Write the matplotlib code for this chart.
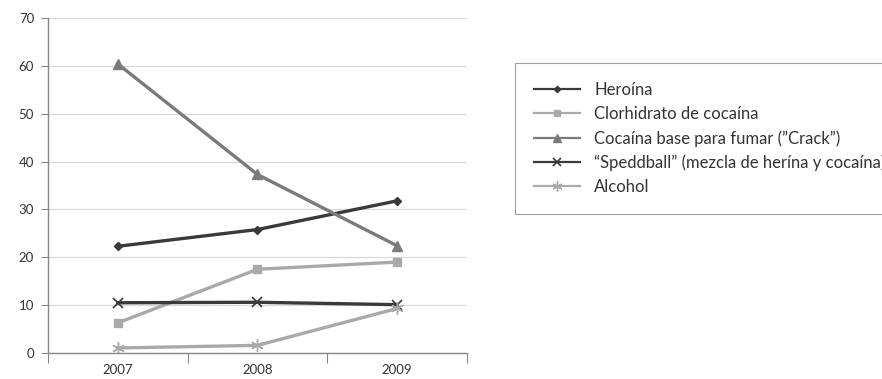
import matplotlib.pyplot as plt

plt.rcParams['font.family'] = ['Lato', 'DejaVu Sans']

years = ['2007', '2008', '2009']
heroina = [22.3, 25.8, 31.8]
clorhidrato = [6.3, 17.5, 19.0]
crack = [60.4, 37.3, 22.4]
speedball = [10.5, 10.6, 10.1]
alcohol = [1.05, 1.6, 9.3]

labels = ['Heroína',
          'Clorhidrato de cocaína',
          'Cocaína base para fumar (\u201dCrack\u201d)',
          '\u201cSpeddball\u201d (mezcla de herína y cocaína)',
          'Alcohol']

fig = plt.figure(figsize=(8.82, 3.79), dpi=100)
ax = fig.add_axes([0.0544, 0.0686, 0.4751, 0.8839])

x = range(len(years))
ax.plot(x, heroina, color='#3a3a3a', lw=2.4, marker='D', ms=4, label=labels[0])
ax.plot(x, clorhidrato, color='#a9a9a9', lw=2.4, marker='s', ms=6, label=labels[1])
ax.plot(x, crack, color='#7a7a7a', lw=2.4, marker='^', ms=7, label=labels[2])
ax.plot(x, speedball, color='#3a3a3a', lw=2.4, marker='x', ms=7, mew=1.2, label=labels[3])
ax.plot(x, alcohol, color='#a9a9a9', lw=2.4, marker=(6, 2, 0), ms=9, mew=1.0, label=labels[4])

ax.set_ylim(0, 70)
ax.set_xlim(-0.5, 2.5)
ax.set_yticks(range(0, 71, 10))
ax.set_xticks([-0.5, 0.5, 1.5, 2.5])
ax.set_xticklabels([])
ax.set_xticks(list(x), minor=True)
ax.set_xticklabels(years, minor=True)
ax.tick_params(axis='x', which='major', length=7, color='#888888', direction='out')
ax.tick_params(axis='x', which='minor', length=0, pad=8, labelsize=9.5, labelcolor='#333333')
ax.tick_params(axis='y', length=5, color='#888888', labelsize=9.5, labelcolor='#333333', pad=5)

ax.grid(axis='y', color='#d9d9d9', lw=0.9)
ax.set_axisbelow(True)
for s in ['top', 'right']:
    ax.spines[s].set_visible(False)
for s in ['left', 'bottom']:
    ax.spines[s].set_color('#888888')
    ax.spines[s].set_linewidth(1.0)

leg = fig.legend(loc='upper left', bbox_to_anchor=(0.584, 0.834), frameon=True,
                 fancybox=False, edgecolor='#888888', fontsize=12, handlelength=2.75,
                 labelspacing=0.48, borderpad=1.15, handletextpad=0.85, borderaxespad=0)
leg.get_frame().set_linewidth(0.8)
for line in leg.get_lines():
    line.set_linewidth(1.6)
    line.set_markersize(line.get_markersize() * 0.8)
for t in leg.get_texts():
    t.set_color('#333333')

fig.savefig('out.png', dpi=100)
